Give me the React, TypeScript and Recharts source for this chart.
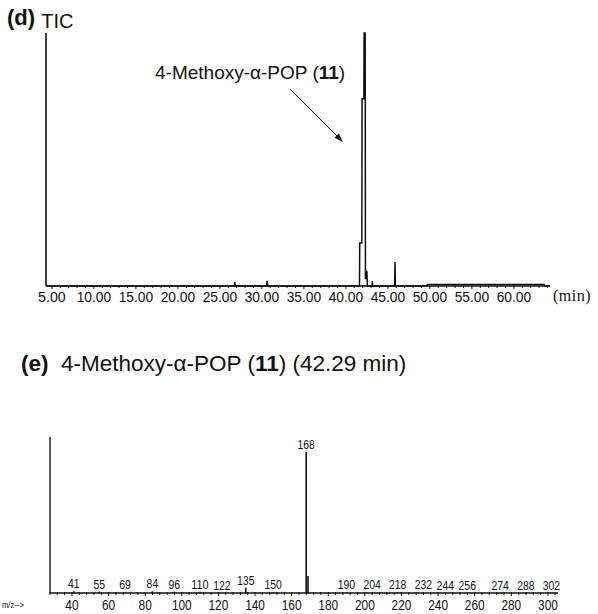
import React from 'react'
import { ComposedChart, Line, Bar, XAxis, YAxis, LabelList, ReferenceLine } from 'recharts'

// (d) TIC trace, retention time (min) vs relative abundance
const TIC_TIME = [
  4.3, 26.72, 26.77, 26.84, 30.57, 30.63, 30.7, 41.62, 41.65, 41.9, 41.93, 42.14,
  42.17, 42.3, 42.33, 42.47, 42.5, 42.56, 43.12, 43.15, 43.2, 45.8, 45.85, 45.9,
  49.6, 49.7, 63.6, 63.7, 64.3,
]
const TIC_ABUND = [
  0, 0, 1.5, 0, 0, 2, 0, 0, 17, 17, 74, 74,
  100, 100, 3, 3, 6, 0, 0, 2, 0, 0, 9.5, 0,
  0, 0.6, 0.6, 0, 0,
]
const TIME_TICKS = [5, 10, 15, 20, 25, 30, 35, 40, 45, 50, 55, 60]

// (e) mass spectrum at 42.29 min
const MZ = [41, 55, 69, 84, 96, 110, 122, 135, 150, 168, 169, 190, 204, 218, 232, 244, 256, 274, 288, 302]
const MZ_ABUND = [1.2, 1, 0.8, 1.2, 1, 0.8, 0.2, 3.8, 0.6, 100, 12, 0.6, 0.4, 0.4, 0.4, 0.3, 0.3, 0.3, 0.3, 0.3]
const MZ_LABELS = ['41', '55', '69', '84', '96', '110', '122', '135', '150', '168', '', '190', '204', '218', '232', '244', '256', '274', '288', '302']
const MZ_TICKS = [40, 60, 80, 100, 120, 140, 160, 180, 200, 220, 240, 260, 280, 300]

const INK = '#111'
const SANS = '"Liberation Sans", Arial, sans-serif'

const ticData = TIC_TIME.map((t, i) => ({ t, v: TIC_ABUND[i] }))
const msData = MZ.map((mz, i) => ({ mz, v: MZ_ABUND[i], label: MZ_LABELS[i] }))

const timeMinor = Array.from({ length: 60 }, (_, i) => 5 + i).filter((t) => t <= 64)
const mzMinor = Array.from({ length: 70 }, (_, i) => 28 + i * 4).filter((m) => m <= 304)

// eslint-disable-next-line @typescript-eslint/no-explicit-any
function TimeTick({ x, y, payload }: any) {
  const major = TIME_TICKS.includes(payload.value)
  const s = payload.value.toFixed(2)
  return (
    <g>
      <line x1={x} x2={x} y1={y - 1} y2={y + (major ? 3 : 2)} stroke={INK} strokeWidth={1} />
      {major && (
        <text x={x} y={y + 16} textAnchor="middle" fontSize={14} fontFamily={SANS} fill={INK}
          textLength={s.length * 6.9} lengthAdjust="spacingAndGlyphs">
          {s}
        </text>
      )}
    </g>
  )
}

// eslint-disable-next-line @typescript-eslint/no-explicit-any
function MzTick({ x, y, payload }: any) {
  const major = MZ_TICKS.includes(payload.value)
  const s = String(payload.value)
  return (
    <g>
      <line x1={x} x2={x} y1={y - 1} y2={y + (major ? 3 : 2)} stroke={INK} strokeWidth={1} />
      {major && (
        <text x={x} y={y + 17} textAnchor="middle" fontSize={14} fontFamily={SANS} fill={INK}
          textLength={s.length * 6.6} lengthAdjust="spacingAndGlyphs">
          {s}
        </text>
      )}
    </g>
  )
}

// eslint-disable-next-line @typescript-eslint/no-explicit-any
function PeakLabel({ x, y, width, value }: any) {
  if (!value) return null
  const s = String(value)
  return (
    <text x={x + width / 2} y={y - 3} textAnchor="middle" fontSize={13} fontFamily={SANS} fill={INK}
      textLength={s.length * 5.8} lengthAdjust="spacingAndGlyphs">
      {s}
    </text>
  )
}

export default function App() {
  return (
    <div style={{ position: 'absolute', left: 0, top: 0, width: 598, height: 614, background: '#fff', color: INK, fontFamily: SANS }}>
      <div style={{ position: 'absolute', left: 7, top: 5, fontSize: 22, whiteSpace: 'nowrap' }}>
        <b>(d)</b> <span style={{ position: 'relative', top: 3, fontSize: 20 }}>TIC</span>
      </div>
      <div style={{ position: 'absolute', left: 155, top: 62, fontSize: 19, whiteSpace: 'nowrap' }}>
        4-Methoxy-α-POP (<b>11</b>)
      </div>
      <div style={{ position: 'absolute', left: 553, top: 287, fontSize: 16, letterSpacing: 0.5, fontFamily: '"Liberation Serif", serif' }}>
        (min)
      </div>

      <div style={{ position: 'absolute', left: 0, top: 0 }}>
        <ComposedChart width={598} height={310} data={ticData} margin={{ top: 33, right: 48, bottom: 0, left: 46 }}>
          <XAxis
            dataKey="t"
            type="number"
            domain={[4.3, 64.3]}
            ticks={timeMinor}
            interval={0}
            tick={<TimeTick />}
            tickLine={false}
            tickSize={0}
            tickMargin={0}
            height={24}
            stroke={INK}
            strokeWidth={1.5}
            allowDataOverflow
          />
          <YAxis domain={[0, 100]} width={0} tick={false} tickLine={false} axisLine={false} />
          <ReferenceLine x={4.3} stroke={INK} strokeWidth={1.6} />
          <Line dataKey="v" type="linear" stroke={INK} strokeWidth={1.5} dot={false} isAnimationActive={false} />
        </ComposedChart>
      </div>

      <svg style={{ position: 'absolute', left: 0, top: 0 }} width={598} height={314}>
        <line x1={290} y1={89} x2={338} y2={137} stroke={INK} strokeWidth={1} />
        <polygon points="343,142 334.6,137.7 338.8,133.5" fill={INK} />
      </svg>

      <div style={{ position: 'absolute', left: 21, top: 351, fontSize: 22.5, whiteSpace: 'nowrap' }}>
        <b>(e)</b>&nbsp; 4-Methoxy-α-POP (<b>11</b>) (42.29 min)
      </div>
      <div style={{ position: 'absolute', left: 2, top: 600, fontSize: 9, transform: 'scaleX(0.85)', transformOrigin: 'left' }}>m/z--&gt;</div>

      <div style={{ position: 'absolute', left: 0, top: 420 }}>
        <ComposedChart width={598} height={194} data={msData} margin={{ top: 17, right: 40, bottom: 0, left: 50 }}>
          <XAxis
            dataKey="mz"
            type="number"
            domain={[28, 305.5]}
            ticks={mzMinor}
            interval={0}
            tick={<MzTick />}
            tickLine={false}
            tickSize={0}
            tickMargin={0}
            height={21}
            stroke={INK}
            strokeWidth={1.5}
            allowDataOverflow
          />
          <YAxis domain={[0, 110.6]} width={0} tick={false} tickLine={false} axisLine={false} />
          <ReferenceLine x={28} stroke={INK} strokeWidth={1.4} />
          <Bar dataKey="v" fill={INK} barSize={1.6} isAnimationActive={false}>
            <LabelList dataKey="label" content={<PeakLabel />} />
          </Bar>
        </ComposedChart>
      </div>
    </div>
  )
}
